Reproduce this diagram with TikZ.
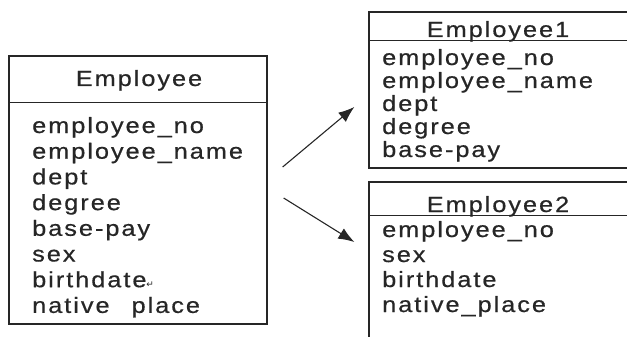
\documentclass[tikz,border=0pt]{standalone}
\usepackage{fontspec}
\usetikzlibrary{arrows.meta, positioning}
\newfontfamily\tblfont{Liberation Sans}[LetterSpace=9, FakeStretch=1.15, FakeBold=0.6]
\newfontfamily\markfont{DejaVu Sans}

\begin{document}
\begin{tikzpicture}[
    x=1pt, y=-1pt,
    table/.style={rectangle, draw=black!85, line width=1.3pt, minimum width=258pt, inner sep=0pt},
    title/.style={anchor=base, font=\tblfont\fontsize{22}{25}\selectfont, text=black!85},
    attr/.style={anchor=base west, inner sep=0pt, font=\tblfont\fontsize{22}{25}\selectfont, text=black!85},
    headline/.style={draw=black!85, line width=1.1pt},
    arrow/.style={-{Latex[length=16pt, width=12pt]}, line width=1.1pt, draw=black!85}
]
\useasboundingbox (0,0) rectangle (627,337);

% source relation
\node (emp) [table, minimum height=268pt] at (138,190) {};
\node (emp_title) [title] at (139,86) {Employee};
\draw [headline] ([yshift=-47pt]emp.north west) -- ([yshift=-47pt]emp.north east);
\foreach \attr [count=\i] in {employee\_no, employee\_name, dept, degree, base-pay, sex,
    birthdate{\markfont\fontsize{9}{9}\selectfont ↵}, native\hspace{22pt}place}
  \node (emp_a\i) [attr] at (32,{133+25.7*(\i-1)}) {\attr};

% first fragment
\node (emp1) [table, minimum width=260pt, minimum height=156pt] at (499,90) {};
\node (emp1_title) [title] at (498,37) {Employee1};
\draw [headline] ([yshift=-29pt]emp1.north west) -- ([yshift=-29pt]emp1.north east);
\foreach \attr [count=\i] in {employee\_no, employee\_name, dept, degree, base-pay}
  \node (emp1_a\i) [attr] at (382,{65+23*(\i-1)}) {\attr};

% second fragment
\node (emp2) [table, minimum width=260pt, minimum height=164pt] at (499,264) {};
\node (emp2_title) [title] at (498,212) {Employee2};
\draw [headline] ([yshift=-34pt]emp2.north west) -- ([yshift=-34pt]emp2.north east);
\foreach \attr [count=\i] in {employee\_no, sex, birthdate, native\_place}
  \node (emp2_a\i) [attr] at (382,{237+25*(\i-1)}) {\attr};

% Arrows
\draw [arrow] ([xshift=15pt, yshift=23pt]emp.east) -- ([xshift=-14pt, yshift=-17pt]emp1.west);
\draw [arrow] ([xshift=16pt, yshift=-8pt]emp.east) -- ([xshift=-14pt, yshift=22pt]emp2.west);

\end{tikzpicture}
\end{document}
